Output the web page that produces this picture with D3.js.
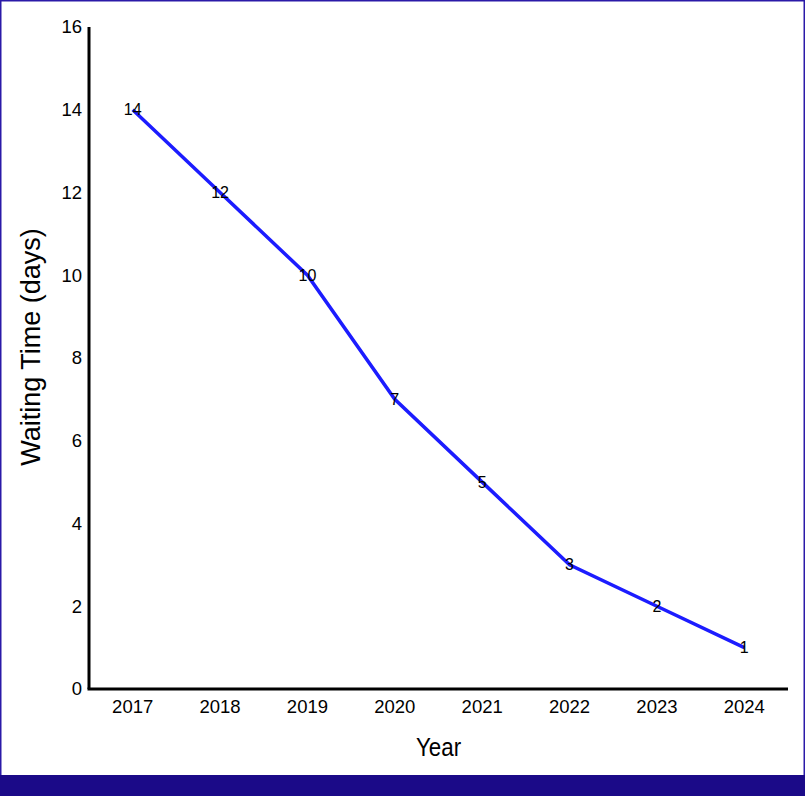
<!DOCTYPE html>
<html><head><meta charset="utf-8">
<script src="https://cdn.jsdelivr.net/npm/d3@7"></script>
<style>body{margin:0;background:#fff}svg{display:block}</style>
</head><body>
<script>
const years = ["2017","2018","2019","2020","2021","2022","2023","2024"];
const waitingDays = [14,12,10,7,5,3,2,1];
const yTicks = [0,2,4,6,8,10,12,14,16];

const W=805,H=796;
const svg=d3.select("body").append("svg").attr("width",W).attr("height",H);
svg.append("rect").attr("x",0.75).attr("y",0.75).attr("width",W-1.5).attr("height",H-1.5).attr("fill","#fff").attr("stroke","#2b1aa8").attr("stroke-width",1.5);
svg.append("rect").attr("x",0).attr("y",775).attr("width",W).attr("height",H-775).attr("fill","#1b0a88");

const m={l:89,r:788,t:27,b:689};
const x=d3.scaleBand().domain(years).range([m.l,m.r]);
const y=d3.scaleLinear().domain([0,16]).range([m.b,m.t]);
const font="Liberation Sans, Arial, sans-serif";

const g=svg.append("g");
const xa=g.append("g").attr("transform",`translate(0,${m.b})`).call(d3.axisBottom(x).tickSize(0).tickPadding(11));
const ya=g.append("g").attr("transform",`translate(${m.l},0)`).call(d3.axisLeft(y).tickValues(yTicks).tickSize(0).tickPadding(7));
[xa,ya].forEach(a=>{a.select(".domain").attr("stroke","#000").attr("stroke-width",3);
  a.selectAll("text").attr("font-family",font).attr("font-size",18.5).attr("fill","#000");});
xa.select(".domain").attr("d",`M${m.l-1.5},0H${m.r}`);
ya.select(".domain").attr("d",`M0,${m.t}V${m.b}`);

const line=d3.line().x((d,i)=>x(years[i])+x.bandwidth()/2).y(d=>y(d));
g.append("path").datum(waitingDays).attr("d",line).attr("fill","none").attr("stroke","#1c1cff").attr("stroke-width",3.5);

g.selectAll(".lbl").data(waitingDays).enter().append("text")
 .attr("x",(d,i)=>x(years[i])+x.bandwidth()/2).attr("y",d=>y(d))
 .attr("text-anchor","middle").attr("dominant-baseline","central")
 .attr("font-family",font).attr("font-size",16).attr("fill","#000").text(d=>d);

svg.append("text").attr("transform",`translate(${(m.l+m.r)/2},756) scale(0.86,1)`).attr("text-anchor","middle")
 .attr("font-family",font).attr("font-size",26).text("Year");
svg.append("text").attr("transform",`translate(40,347) rotate(-90)`).attr("text-anchor","middle")
 .attr("font-family",font).attr("font-size",27).text("Waiting Time (days)");
</script>
</body></html>
